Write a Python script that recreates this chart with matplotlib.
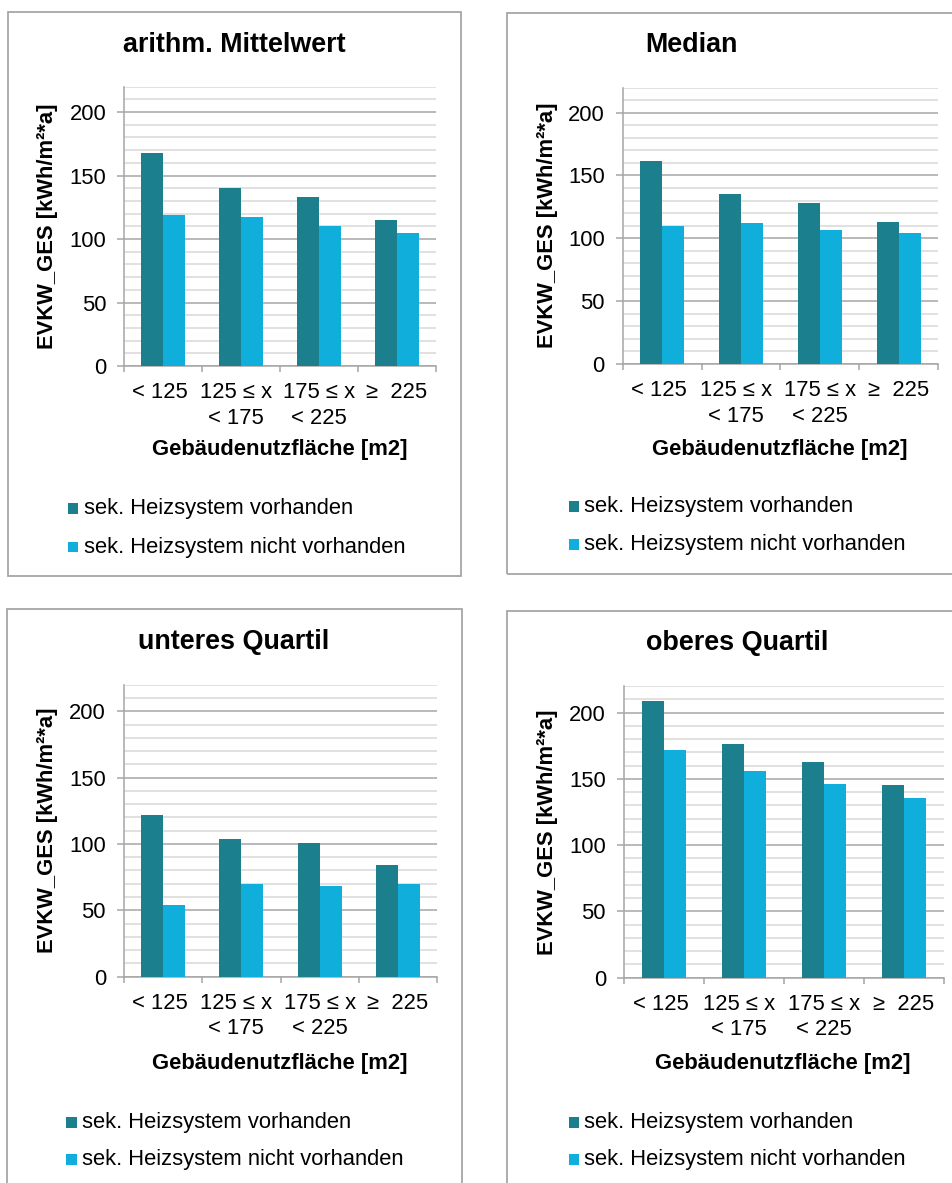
import matplotlib
matplotlib.use("Agg")
import matplotlib.pyplot as plt
from matplotlib.patches import Rectangle
from matplotlib.ticker import MultipleLocator
from matplotlib.transforms import ScaledTranslation, blended_transform_factory

plt.rcParams['font.family'] = ['Liberation Sans', 'DejaVu Sans']

# Daten
kategorien = ['< 125', '125 ≤ x\n< 175', '175 ≤ x\n< 225', '≥  225']
serien = ['sek. Heizsystem vorhanden', 'sek. Heizsystem nicht vorhanden']
titel = ['arithm. Mittelwert', 'Median', 'unteres Quartil', 'oberes Quartil']

mittel_mit = [168, 140, 133, 115]
mittel_ohne = [119, 117, 110, 105]
median_mit = [161.5, 135, 128, 113]
median_ohne = [110, 112, 107, 104]
unteres_mit = [121.5, 103.5, 101, 84]
unteres_ohne = [54, 69.5, 68, 69.5]
oberes_mit = [208.5, 176.5, 163, 145.5]
oberes_ohne = [172, 156, 146, 136]

DUNKEL = '#1B7F8E'
HELL = '#10AFDB'
GRAU = '#A6A6A6'
FS = 15.8

W, H = 952, 1183
fig = plt.figure(figsize=(W / 100, H / 100), dpi=100)


def fx(px):
    return px / W


def fy(py):
    return 1 - py / H


# Layout in Pixeln: Rahmen, Achse, Titel, Labels, Legende
panels = [
    dict(rahmen=(7.5, 11.8, 461, 575.7), achse=(124.3, 86.7, 436, 366),
         titel=(234, 45), ylab=48, xlab=(280, 450), leg=(67.5, 83.5, 508.7, 547),
         mit=mittel_mit, ohne=mittel_ohne),
    dict(rahmen=(506.7, 12.5, 1000, 573.7), achse=(622.7, 87.5, 938, 364),
         titel=(691, 45), ylab=548, xlab=(780, 449.5), leg=(568.5, 584.5, 506.8, 544.6),
         mit=median_mit, ohne=median_ohne),
    dict(rahmen=(7, 609, 462, 1300), achse=(124, 684.8, 437, 976.6),
         titel=(234, 641.6), ylab=48, xlab=(280, 1063), leg=(66, 82.5, 1122.3, 1159.5),
         mit=unteres_mit, ohne=unteres_ohne),
    dict(rahmen=(506.7, 610.7, 1000, 1300), achse=(624, 686.2, 944, 977.7),
         titel=(737, 642.7), ylab=548, xlab=(783, 1063), leg=(568.5, 584.5, 1122.3, 1159.5),
         mit=oberes_mit, ohne=oberes_ohne),
]

x = list(range(len(kategorien)))
bw = 0.28
label_versatz = [-3, -5, 0, 0]  # px, wie im Original leicht nach links

for p, t in zip(panels, titel):
    x0, y0, x1, y1 = p['rahmen']
    fig.add_artist(Rectangle((fx(x0), fy(y1)), fx(x1) - fx(x0), fy(y0) - fy(y1),
                             transform=fig.transFigure, fill=False,
                             edgecolor=GRAU, linewidth=1.3))

    l, tp, r, b = p['achse']
    ax = fig.add_axes([fx(l), fy(b), fx(r) - fx(l), fy(tp) - fy(b)])
    ax.bar([i - bw / 2 for i in x], p['mit'], bw, color=DUNKEL, zorder=3)
    ax.bar([i + bw / 2 for i in x], p['ohne'], bw, color=HELL, zorder=3)

    ax.set_xlim(-0.5, 3.5)
    ax.set_ylim(0, 220)
    ax.yaxis.set_major_locator(MultipleLocator(50))
    ax.yaxis.set_minor_locator(MultipleLocator(10))
    ax.grid(axis='y', which='major', color='#A6A6A6', linewidth=1.1, zorder=0)
    ax.grid(axis='y', which='minor', color='#D9D9D9', linewidth=1.1, zorder=0)
    ax.set_axisbelow(True)

    # Kategoriegrenzen als Striche, Beschriftung als Text darunter
    ax.set_xticks([-0.5, 0.5, 1.5, 2.5, 3.5])
    ax.set_xticklabels([])
    ax.tick_params(axis='x', which='major', length=4, color=GRAU, width=1.1)
    trans = blended_transform_factory(ax.transData, ax.transAxes)
    for i, (kat, dx) in enumerate(zip(kategorien, label_versatz)):
        ax.text(i, 0, kat, fontsize=FS, ha='center', va='top', multialignment='center',
                linespacing=1.25,
                transform=trans + ScaledTranslation(dx / 100, -16.5 / 100, fig.dpi_scale_trans))

    ax.tick_params(axis='y', which='major', length=5, color=GRAU, width=1.1,
                   labelsize=FS, pad=8)
    ax.tick_params(axis='y', which='minor', length=0)

    for s in ['top', 'right']:
        ax.spines[s].set_visible(False)
    for s in ['left', 'bottom']:
        ax.spines[s].set_color(GRAU)
        ax.spines[s].set_linewidth(1.1)

    tx, ty = p['titel']
    fig.text(fx(tx), fy(ty), t, fontsize=19.4, fontweight='bold', ha='center', va='center')
    fig.text(fx(p['ylab']), fy((tp + b) / 2), 'EVKW_GES [kWh/m²*a]', fontsize=FS,
             fontweight='bold', rotation=90, ha='center', va='center')
    lx, ly = p['xlab']
    fig.text(fx(lx), fy(ly), 'Gebäudenutzfläche [m2]', fontsize=FS,
             fontweight='bold', ha='center', va='center')

    qx, txx, r1, r2 = p['leg']
    for farbe, name, ry in zip([DUNKEL, HELL], serien, [r1, r2]):
        fig.add_artist(Rectangle((fx(qx), fy(ry + 5.2)), 10.5 / W, 10.5 / H,
                                 transform=fig.transFigure, color=farbe, linewidth=0))
        fig.text(fx(txx), fy(ry), name, fontsize=FS, ha='left', va='center')

fig.savefig('out.png', dpi=100)
